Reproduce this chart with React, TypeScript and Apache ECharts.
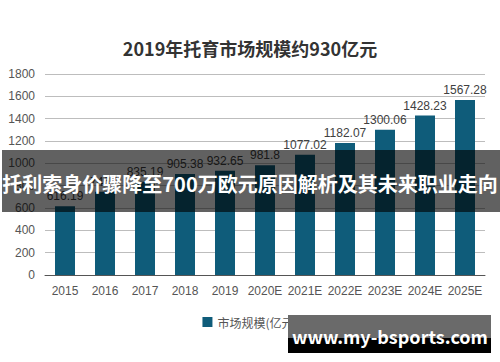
import React, { useEffect, useRef } from "react";
import * as echarts from "echarts";

const categories = ["2015", "2016", "2017", "2018", "2019", "2020E", "2021E", "2022E", "2023E", "2024E", "2025E"];
const marketSize = [616.19, 746.2, 835.19, 905.38, 932.65, 981.8, 1077.02, 1182.07, 1300.06, 1428.23, 1567.28];
const seriesName = "市场规模(亿元)";
const titleText = "2019年托育市场规模约930亿元";
const bannerText = "托利索身价骤降至700万欧元原因解析及其未来职业走向";
const watermarkText = "www.my-bsports.com";

const FONT = '"Noto Sans CJK SC", "Noto Sans", sans-serif';
const NUMFONT = '"Liberation Sans", Arial, sans-serif';

export default function App() {
  const ref = useRef<HTMLDivElement>(null);
  useEffect(() => {
    if (!ref.current) return;
    const chart = echarts.init(ref.current, null, { renderer: "svg" });
    chart.setOption({
      animation: false,
      backgroundColor: "#ffffff",
      textStyle: { fontFamily: FONT },
      title: {
        text: titleText,
        left: "center",
        top: 34,
        textStyle: { fontSize: 18, fontWeight: "bold", color: "#333333", fontFamily: FONT },
      },
      grid: { left: 45, right: 15, top: 74, bottom: 87, containLabel: false },
      legend: {
        data: [seriesName],
        left: "center",
        top: 311,
        itemWidth: 10,
        itemHeight: 10,
        icon: "rect",
        textStyle: { fontSize: 12, color: "#555555", fontFamily: FONT },
      },
      xAxis: {
        type: "category",
        data: categories,
        axisLine: { show: true, lineStyle: { color: "#555555", width: 1 } },
        axisTick: { show: false },
        axisLabel: { interval: 0, color: "#555555", fontSize: 12, margin: 10, fontFamily: NUMFONT },
      },
      yAxis: {
        type: "value",
        min: 0,
        max: 1800,
        interval: 200,
        axisLine: { show: false },
        axisTick: { show: false },
        axisLabel: {
          color: "#555555",
          fontSize: 12,
          margin: 10,
          fontFamily: NUMFONT,
          formatter: (v: number) => String(v),
        },
        splitLine: { lineStyle: { color: "#bdbdbd", width: 1 } },
      },
      series: [
        {
          name: seriesName,
          type: "bar",
          data: marketSize,
          barWidth: "50%",
          itemStyle: { color: "#0f5c7a" },
          label: {
            show: true,
            position: "top",
            distance: 4,
            color: "#404040",
            fontSize: 12,
            fontFamily: NUMFONT,
          },
        },
      ],
      graphic: [
        {
          type: "rect",
          z: 100,
          shape: { x: 2, y: 150, width: 498, height: 62 },
          style: { fill: "rgba(0,0,0,0.62)" },
        },
        {
          type: "text",
          z: 101,
          x: 250,
          y: 183,
          style: {
            text: bannerText,
            fill: "#ffffff",
            font: `bold 20px ${FONT}`,
            textAlign: "center",
            textVerticalAlign: "middle",
          },
        },
        {
          type: "rect",
          z: 100,
          shape: { x: 288, y: 315, width: 203, height: 38 },
          style: {
            fill: {
              type: "linear",
              x: 0, y: 0, x2: 0, y2: 1,
              colorStops: [
                { offset: 0, color: "#6a6a6a" },
                { offset: 0.6, color: "#6a6a6a" },
                { offset: 0.6, color: "#000000" },
                { offset: 1, color: "#000000" },
              ],
            },
          },
        },
        {
          type: "text",
          z: 101,
          x: 390,
          y: 336,
          style: {
            text: watermarkText,
            fill: "#ffffff",
            font: `bold 18px ${FONT}`,
            textAlign: "center",
            textVerticalAlign: "middle",
          },
        },
      ],
    });
    return () => chart.dispose();
  }, []);
  return <div ref={ref} style={{ position: "fixed", left: 0, top: 0, width: 500, height: 362 }} />;
}
